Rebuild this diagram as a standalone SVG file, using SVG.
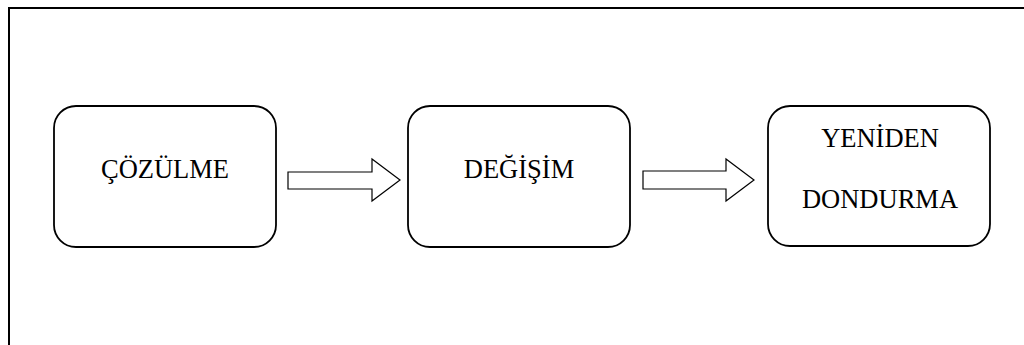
<svg xmlns="http://www.w3.org/2000/svg" width="1024" height="345" viewBox="0 0 1024 345">
<style>
.box{fill:#fff;stroke:#000;stroke-width:1.8}
.arrow{fill:#fff;stroke:#000;stroke-width:1.2;stroke-linejoin:miter}
.lbl{font-family:"Liberation Serif","Times New Roman",serif;font-size:26.5px;fill:#000;text-anchor:middle}
</style>
<rect width="1024" height="345" fill="#fff"/>
<path d="M9,345 V8 H1024" fill="none" stroke="#000" stroke-width="2"/>
<g id="node-cozulme">
<rect class="box" x="54" y="106" width="222" height="141" rx="22" ry="22"/>
<text class="lbl" x="165" y="178">ÇÖZÜLME</text>
</g>
<g id="node-degisim">
<rect class="box" x="408" y="106" width="222" height="141" rx="22" ry="22"/>
<text class="lbl" x="519" y="178">DEĞİŞİM</text>
</g>
<g id="node-yeniden-dondurma">
<rect class="box" x="768" y="106" width="222" height="140" rx="22" ry="22"/>
<text class="lbl" x="880" y="147">YENİDEN</text>
<text class="lbl" x="880" y="208">DONDURMA</text>
</g>
<g id="connectors">
<polygon class="arrow" points="288,172 372,172 372,159 400,180 372,201 372,189 288,189"/>
<polygon class="arrow" points="643,171 726,171 726,159 754,180 726,201 726,189 643,189"/>
</g>
</svg>
